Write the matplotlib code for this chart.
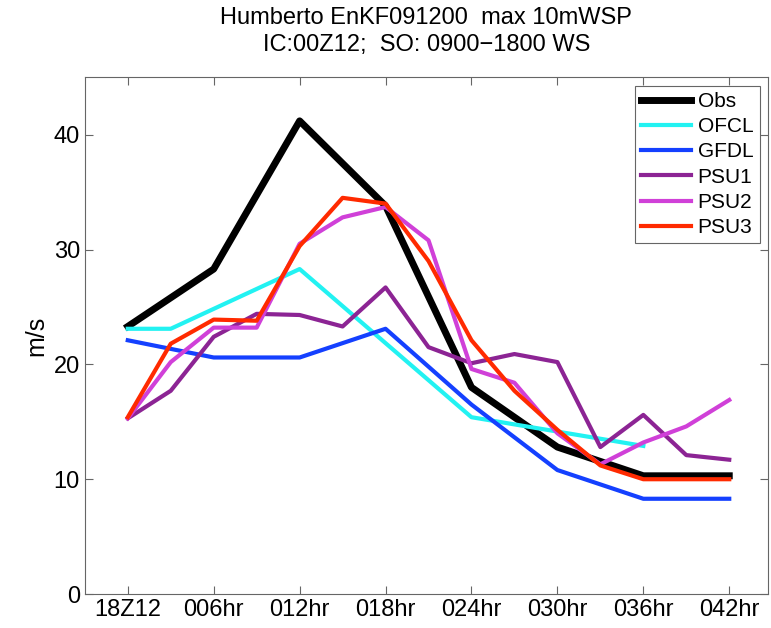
import matplotlib
matplotlib.use("Agg")
import matplotlib.pyplot as plt

# -------------------------------
# DATA (forecast hour, m/s)
# -------------------------------
tick_hours = [0, 6, 12, 18, 24, 30, 36, 42]
tick_labels = ["18Z12", "006hr", "012hr", "018hr", "024hr", "030hr", "036hr", "042hr"]

obs_hours = [0, 6, 12, 18, 24, 30, 36, 42]
obs = [23.3, 28.3, 41.2, 33.8, 18.0, 12.8, 10.3, 10.3]

ofcl_hours = [0, 3, 12, 24, 36]
ofcl = [23.1, 23.1, 28.3, 15.4, 12.9]

gfdl_hours = [0, 6, 12, 18, 24, 30, 36, 42]
gfdl = [22.1, 20.6, 20.6, 23.1, 16.5, 10.8, 8.3, 8.3]

hours3 = [0, 3, 6, 9, 12, 15, 18, 21, 24, 27, 30, 33, 36, 39, 42]
psu1 = [15.3, 17.7, 22.4, 24.4, 24.3, 23.3, 26.7, 21.5, 20.1, 20.9, 20.2, 12.8, 15.6, 12.1, 11.7]
psu2 = [15.3, 20.2, 23.2, 23.2, 30.5, 32.8, 33.7, 30.8, 19.6, 18.4, 14.0, 11.3, 13.2, 14.6, 16.9]
psu3 = [15.4, 21.8, 23.9, 23.8, 30.3, 34.5, 34.0, 29.0, 22.1, 17.7, 14.3, 11.2, 10.0, 10.0, 10.0]

plt.rcParams["font.family"] = ["Liberation Sans", "DejaVu Sans"]

# -------------------------------
# PLOT
# -------------------------------
fig = plt.figure(figsize=(7.71, 6.28), dpi=100)
ax = fig.add_axes([0.110, 0.054, 0.886, 0.823])

ax.plot(obs_hours, obs, color="black", lw=5, label="Obs")
ax.plot(ofcl_hours, ofcl, color="#22f2f2", lw=3, label="OFCL")
ax.plot(gfdl_hours, gfdl, color="#1440ff", lw=3, label="GFDL")
ax.plot(hours3, psu1, color="#8c2494", lw=3, label="PSU1")
ax.plot(hours3, psu2, color="#d040d8", lw=3, label="PSU2")
ax.plot(hours3, psu3, color="#ff2a00", lw=3, label="PSU3")

ax.set_xlim(-3, 44.7)
ax.set_ylim(0, 45)
ax.set_xticks(tick_hours)
ax.set_xticklabels(tick_labels)
ax.set_yticks([0, 10, 20, 30, 40])
ax.tick_params(direction="in", top=True, right=True, labelsize=17,
               length=6, width=0.8, color="0.4")
for s in ax.spines.values():
    s.set_color("0.4")
    s.set_linewidth(0.8)

ax.set_ylabel("m/s", fontsize=18)
ax.set_title("Humberto EnKF091200  max 10mWSP\nIC:00Z12;  SO: 0900\u22121800 WS",
             fontsize=17, linespacing=1.3, pad=19)

leg = ax.legend(loc="upper right", fontsize=15, fancybox=False, framealpha=1,
                edgecolor="0.4", handlelength=2.4, labelspacing=0.3,
                borderaxespad=0.4, handletextpad=0.3, borderpad=0.3)
leg.get_frame().set_linewidth(0.8)

plt.savefig("out.png", dpi=100)
